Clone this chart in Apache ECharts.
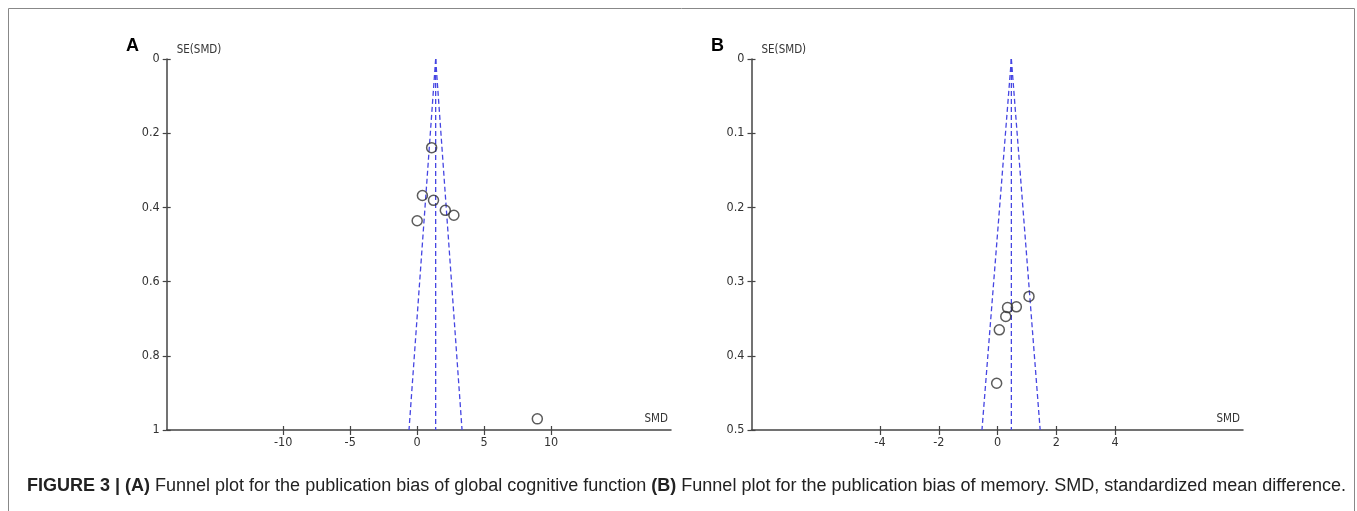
<!DOCTYPE html>
<html><head><meta charset="utf-8">
<script src="https://cdn.jsdelivr.net/npm/echarts@6/dist/echarts.min.js"></script>
<style>html,body{margin:0;padding:0;background:#fff}#c{width:1357px;height:511px}</style>
</head><body><div id="c"></div>
<script>
// Panel A: global cognitive function
const smdA = [1.08, 0.39, 1.22, 0.0, 2.1, 2.74, 8.97];
const seA  = [0.239, 0.368, 0.381, 0.436, 0.408, 0.421, 0.970];
const funnelA_center = [[1.38, 0], [1.38, 1]];
const funnelA_left   = [[1.38, 0], [-0.61, 1]];
const funnelA_right  = [[1.38, 0], [3.35, 1]];
const xTicksA = [-10, -5, 0, 5, 10];
// Panel B: memory
const smdB = [1.07, 0.34, 0.64, 0.28, 0.06, -0.03];
const seB  = [0.320, 0.335, 0.334, 0.347, 0.365, 0.437];
const funnelB_center = [[0.47, 0], [0.47, 0.5]];
const funnelB_left   = [[0.47, 0], [-0.53, 0.5]];
const funnelB_right  = [[0.47, 0], [1.45, 0.5]];
const xTicksB = [-4, -2, 0, 2, 4];

const FONT = "'DejaVu Sans Condensed','Liberation Sans',sans-serif";
const CAPFONT = "'Liberation Sans',Arial,sans-serif";
const TXT = '#333';
const AX = '#444';
const BLUE = '#4545e2';

function pts(xs, ys){ return xs.map((x,i)=>[x, ys[i]]); }

function xAxisPair(grid, min, max, ticks){
  const base = {type:'value', gridIndex:grid, min:min, max:max, position:'bottom', splitLine:{show:false}};
  return [
    Object.assign({}, base, {
      name:'SMD', nameLocation:'end', nameGap:0, nameMoveOverlap:false,
      nameTextStyle:{fontFamily:FONT, fontSize:11.5, color:TXT, align:'right', verticalAlign:'bottom', padding:[0,3,5,0]},
      axisLine:{onZero:false, lineStyle:{color:AX, width:1.5}},
      axisTick:{show:true, length:5, customValues:ticks, lineStyle:{color:AX, width:1.2}},
      axisLabel:{customValues:ticks, color:TXT, fontFamily:FONT, fontSize:12.5, margin:6}
    }),
    Object.assign({}, base, {
      axisLine:{show:false, onZero:false},
      axisTick:{show:true, inside:true, length:4, customValues:ticks, lineStyle:{color:AX, width:1.2}},
      axisLabel:{show:false}
    })
  ];
}
function yAxisPair(grid, max, interval){
  const base = {type:'value', gridIndex:grid, min:0, max:max, interval:interval, inverse:true, position:'left', splitLine:{show:false}};
  return [
    Object.assign({}, base, {
      name:'SE(SMD)', nameLocation:'start', nameGap:3, nameMoveOverlap:false,
      nameTextStyle:{fontFamily:FONT, fontSize:11.5, color:TXT, align:'left', verticalAlign:'bottom', padding:[0,0,0,10]},
      axisLine:{onZero:false, lineStyle:{color:AX, width:1.5}},
      axisTick:{show:true, length:4, lineStyle:{color:AX, width:1.2}},
      axisLabel:{color:TXT, fontFamily:FONT, fontSize:12.5, margin:7}
    }),
    Object.assign({}, base, {
      axisLine:{show:false, onZero:false},
      axisTick:{show:true, inside:true, length:4, lineStyle:{color:AX, width:1.2}},
      axisLabel:{show:false}
    })
  ];
}
function dashed(xi, yi, data){
  return {type:'line', xAxisIndex:xi, yAxisIndex:yi, data:data, symbol:'none', silent:true,
    lineStyle:{color:BLUE, width:1.3, type:[5,3]}, z:1};
}
function scatter(xi, yi, data){
  return {type:'scatter', xAxisIndex:xi, yAxisIndex:yi, data:data, symbol:'circle', symbolSize:10,
    itemStyle:{color:'rgba(0,0,0,0)', borderColor:'#333', borderWidth:1.5}, z:3};
}

const xa = xAxisPair(0, -18.7, 18.95, xTicksA);
const xb = xAxisPair(1, -8.37, 8.35, xTicksB);
const ya = yAxisPair(0, 1, 0.2);
const yb = yAxisPair(1, 0.5, 0.1);

const chart = echarts.init(document.getElementById('c'), null, {renderer:'canvas'});
chart.setOption({
  animation:false,
  backgroundColor:'#fff',
  title:[
    {text:'A', left:121, top:32, textStyle:{fontFamily:CAPFONT, fontWeight:'bold', fontSize:18, color:'#000'}},
    {text:'B', left:706, top:32, textStyle:{fontFamily:CAPFONT, fontWeight:'bold', fontSize:18, color:'#000'}},
    {text:'{b|FIGURE 3 | (A)} {n|Funnel plot for the publication bias of global cognitive function} {b|(B)} {n|Funnel plot for the publication bias of memory. SMD, standardized mean difference.}',
     left:22, top:472,
     textStyle:{fontWeight:'normal', rich:{
       b:{fontFamily:CAPFONT, fontWeight:'bold', fontSize:18, color:'#222'},
       n:{fontFamily:CAPFONT, fontWeight:'normal', fontSize:18, color:'#222'}
     }}}
  ],
  graphic:[{type:'rect', shape:{x:8.5, y:8.5, width:1346, height:520}, style:{fill:'none', stroke:'#888', lineWidth:1}, silent:true}],
  grid:[
    {left:166.7, top:59, width:504.3, height:371},
    {left:751.5, top:59, width:491.5, height:371}
  ],
  xAxis:[xa[0], xb[0], xa[1], xb[1]],
  yAxis:[ya[0], yb[0], ya[1], yb[1]],
  series:[
    dashed(0,0,funnelA_center), dashed(0,0,funnelA_left), dashed(0,0,funnelA_right),
    scatter(0,0,pts(smdA, seA)),
    dashed(1,1,funnelB_center), dashed(1,1,funnelB_left), dashed(1,1,funnelB_right),
    scatter(1,1,pts(smdB, seB))
  ]
});
</script></body></html>
